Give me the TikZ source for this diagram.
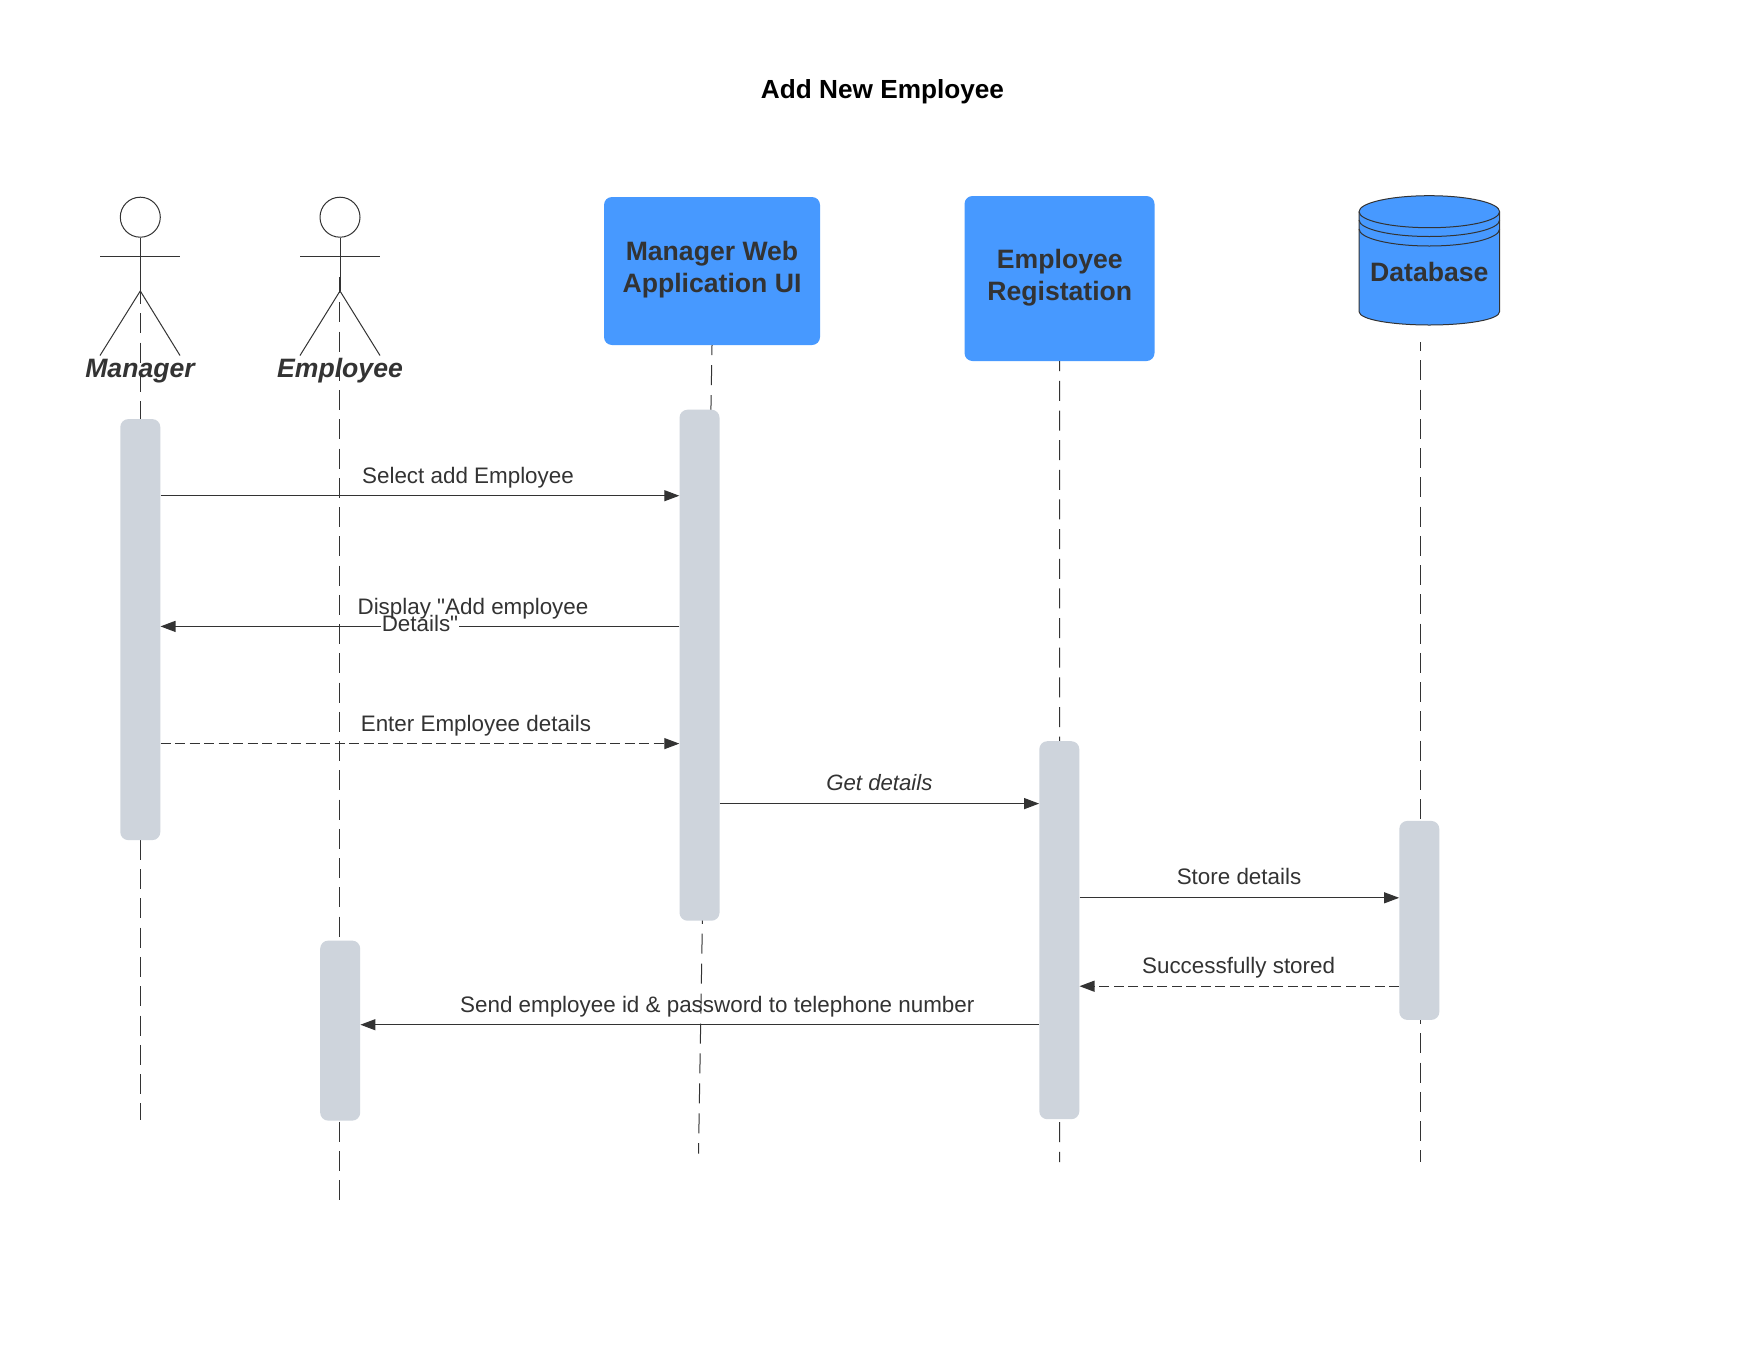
\documentclass[tikz,border=0pt]{standalone}
\usepackage{fontspec}
\setmainfont{Liberation Sans}[Ligatures=TeXOff]
\usetikzlibrary{arrows.meta,calc}
\definecolor{ink}{HTML}{333333}
\definecolor{bluebox}{HTML}{4799FF}
\definecolor{actbar}{HTML}{CED4DC}
\tikzset{
  lifeline/.style={draw=ink,line width=1pt,dash pattern=on 20pt off 9.26pt},
  actline/.style={draw=ink,line width=1pt},
  head/.style={circle,draw=ink,line width=1pt,minimum size=40pt,inner sep=0pt,fill=none},
  activation/.style={rectangle,rounded corners=8pt,fill=actbar,draw=none,minimum width=40pt,inner sep=0pt},
  msg/.style={draw=ink,line width=1.1pt,-{Triangle[length=15pt,width=11pt,fill=ink]}},
  msgdash/.style={msg,dash pattern=on 10pt off 4.5pt},
  lbl/.style={text=ink,inner sep=0pt,font=\fontsize{22.4}{26}\selectfont},
  actorlbl/.style={text=ink,inner sep=0pt,font=\fontsize{26.6}{32}\selectfont\bfseries\itshape},
  boxstyle/.style={rectangle,rounded corners=8pt,fill=bluebox,draw=none,inner sep=0pt,align=center,text=ink,font=\fontsize{26.6}{32}\selectfont\bfseries},
}
\begin{document}
\begin{tikzpicture}[x=1pt,y=-1pt]
\useasboundingbox (0,0) rectangle (1760,1360);
\fill[white] (0,0) rectangle (1760,1360);

\node[text=black,inner sep=0pt,font=\fontsize{26.2}{32}\selectfont\bfseries] (title) at (882.5,91.7) {Add New Employee};

% boxes
\node[boxstyle,minimum width=216pt,minimum height=148pt] (web) at (712,271) {};
\node[boxstyle] (webtxt) at (712,269.3) {Manager Web\\Application UI};
\node[boxstyle,minimum width=190pt,minimum height=165pt] (reg) at (1059.5,278.5) {};
\node[boxstyle] (regtxt) at (1059.8,278) {Employee\\Registation};

% lifeline end points
\coordinate (mgrTop) at (140.3,284);
\coordinate (mgrEnd) at (140.3,1120);
\coordinate (empTop) at (339.6,277);
\coordinate (empEnd) at (339.6,1200.5);
\coordinate (webEnd) at (698.5,1153.5);
\coordinate (regEnd) at (1059.7,1162);
\coordinate (dbTop) at (1420.6,342);
\coordinate (dbEnd) at (1420.6,1162);

\draw[lifeline] (mgrTop) -- (mgrEnd);
\draw[lifeline,dash phase=4pt] (empTop) -- (empEnd);
\draw[lifeline,dash pattern=on 20pt off 9.93pt,dash phase=10pt] (web.south) -- (webEnd);
\draw[lifeline,dash pattern=on 20pt off 9.65pt,dash phase=10pt] (reg.south) -- (regEnd);
\draw[lifeline,dash phase=11pt] (dbTop) -- (dbEnd);

% actors
\node[head] (mgrHead) at (140.3,217.2) {};
\coordinate (mgrHip) at (140.3,291);
\coordinate (mgrArmL) at (100,256.5);
\coordinate (mgrArmR) at (180,256.5);
\coordinate (mgrLegL) at (100,355.5);
\coordinate (mgrLegR) at (180,355.5);
\draw[actline] (mgrHead.south) -- (mgrHip);
\draw[actline] (mgrArmL) -- (mgrArmR);
\draw[actline] (mgrLegL) -- (mgrHip) -- (mgrLegR);
\node[actorlbl] (mgrLbl) at (140,371) {Manager};

\node[head] (empHead) at (340,217.2) {};
\coordinate (empHip) at (340,291);
\coordinate (empArmL) at (300,256.5);
\coordinate (empArmR) at (380,256.5);
\coordinate (empLegL) at (300,355.5);
\coordinate (empLegR) at (380,355.5);
\draw[actline] (empHead.south) -- (empHip);
\draw[actline] (empArmL) -- (empArmR);
\draw[actline] (empLegL) -- (empHip) -- (empLegR);
\node[actorlbl] (empLbl) at (340,371) {Employee};

% database
\filldraw[fill=bluebox,draw=ink,line width=1pt]
  (1359,211.7) arc[start angle=180,end angle=0,x radius=70.3pt,y radius=16pt]
  -- (1499.6,311.5) .. controls (1499.6,320) and (1465,325) .. (1429.3,325)
  .. controls (1394,325) and (1359,320) .. (1359,311.5) -- cycle;
\draw[ink,line width=1pt] (1359,211.7) arc[start angle=180,end angle=360,x radius=70.3pt,y radius=16pt];
\draw[ink,line width=1pt] (1359,220) arc[start angle=180,end angle=360,x radius=70.3pt,y radius=16.5pt];
\draw[ink,line width=1pt] (1359,229) arc[start angle=180,end angle=360,x radius=70.3pt,y radius=17pt];
\node[boxstyle,fill=none] (db) at (1429.3,272) {Database};

% activations
\node[activation,minimum height=421pt] (aMgr) at (140.3,629.6) {};
\node[activation,minimum height=511pt] (aWeb) at (699.5,665.2) {};
\node[activation,minimum height=378pt] (aReg) at (1059.3,930.2) {};
\node[activation,minimum height=199pt] (aDb) at (1419.3,920.4) {};
\node[activation,minimum height=180pt] (aEmp) at (340.2,1030.6) {};

% message rows
\coordinate (y1) at (0,495.7);
\coordinate (y2) at (0,626.4);
\coordinate (y3) at (0,743.6);
\coordinate (y4) at (0,803.6);
\coordinate (y5) at (0,897.8);
\coordinate (y6) at (0,986.2);
\coordinate (y7) at (0,1024.7);

\draw[msg] (aMgr.east |- y1) -- (aWeb.west |- y1);
\draw[msg] (aWeb.west |- y2) -- (aMgr.east |- y2);
\draw[msgdash] (aMgr.east |- y3) -- (aWeb.west |- y3);
\draw[msg] (aWeb.east |- y4) -- (aReg.west |- y4);
\draw[msg] (aReg.east |- y5) -- (aDb.west |- y5);
\draw[msgdash] (aDb.west |- y6) -- (aReg.east |- y6);
\draw[msg] (aReg.west |- y7) -- (aEmp.east |- y7);

% labels
\node[lbl] (l1) at (468,478.2) {Select add Employee};
\node[lbl,fill=white,inner xsep=1pt] (l2b) at (420,623) {Details"};
\node[lbl] (l2a) at (473,608.3) {Display "Add employee};
\node[lbl] (l3) at (476,725.2) {Enter Employee details};
\node[lbl,font=\fontsize{22.2}{26}\selectfont\itshape] (l4) at (879.4,782.7) {Get details};
\node[lbl] (l5) at (1239,876.8) {Store details};
\node[lbl] (l6) at (1238.6,967.3) {Successfully stored};
\node[lbl] (l7) at (717.3,1007) {Send employee id \& password to telephone number};
\end{tikzpicture}
\end{document}
